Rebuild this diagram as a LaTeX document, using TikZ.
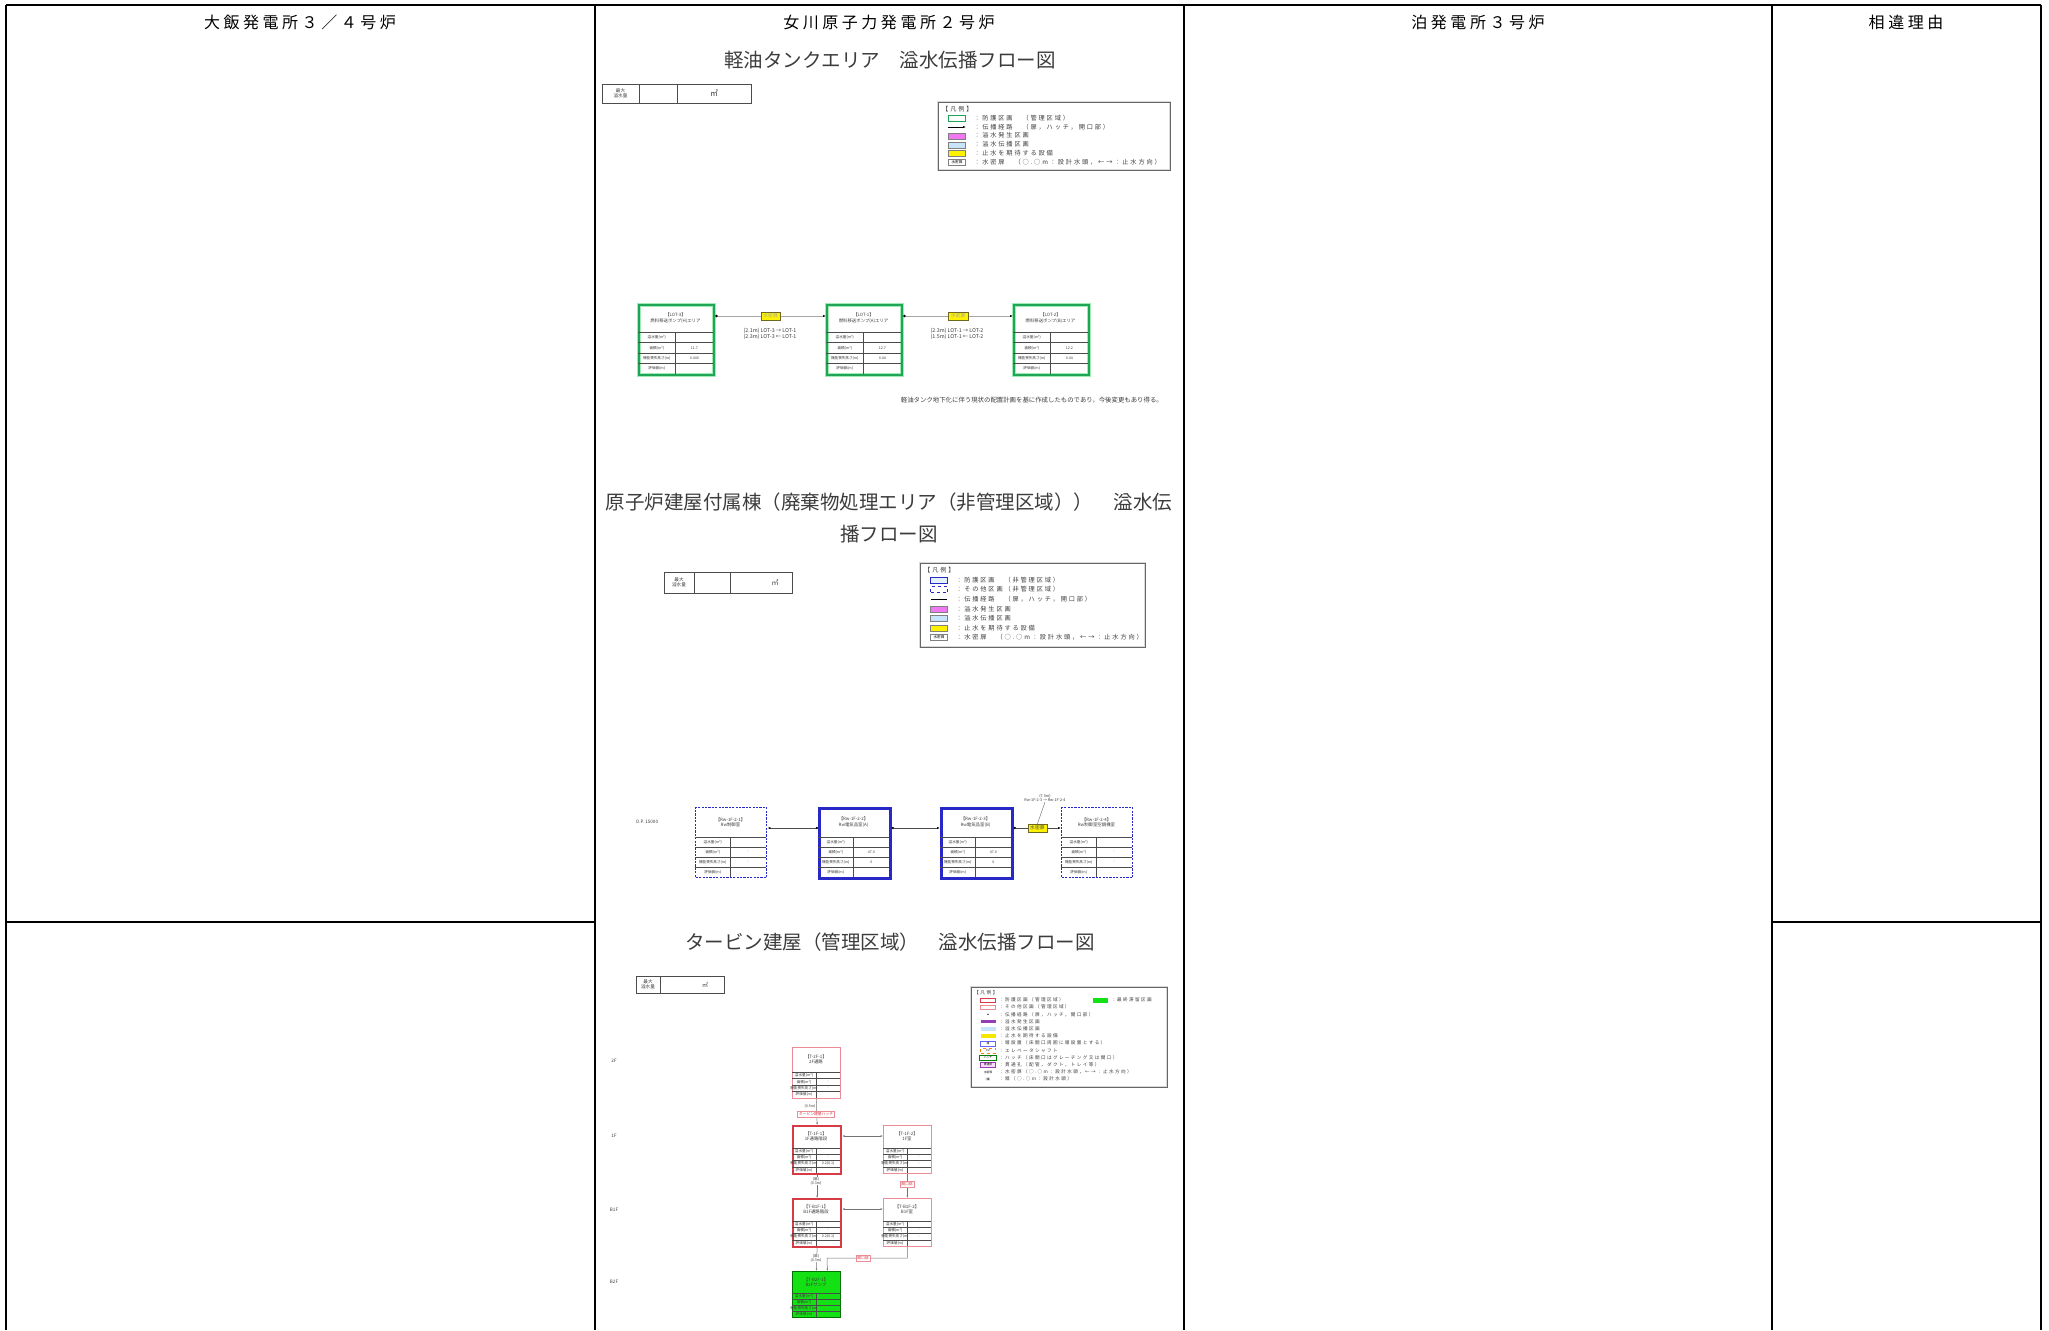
\documentclass[tikz,border=0pt]{standalone}
\usepackage{fontspec}
\setmainfont{Noto Sans CJK JP}
\newfontfamily\headfont[LetterSpace=22]{Noto Sans CJK JP}
\newfontfamily\legfont[LetterSpace=30]{Noto Sans CJK JP}
\usetikzlibrary{arrows.meta}

\definecolor{lotgreen}{RGB}{30,165,85}
\definecolor{glowgreen}{RGB}{160,235,180}
\definecolor{rwblue}{RGB}{40,40,200}
\definecolor{tred}{RGB}{215,60,70}
\definecolor{tpink}{RGB}{235,140,150}
\definecolor{finalgreen}{RGB}{20,225,20}
\definecolor{swmagenta}{RGB}{240,120,240}
\definecolor{swblue}{RGB}{200,228,250}
\definecolor{swpurple}{RGB}{150,60,180}
\definecolor{inkgray}{RGB}{60,60,60}

\tikzset{
  rule/.style={line width=1.1pt},
  heavy rule/.style={line width=2.6pt},
  double rule/.style={double, double distance=1.2pt, line width=0.8pt},
  headtext/.style={font=\headfont\fontsize{16}{16}\selectfont},
  figtitle/.style={font=\fontsize{19.5}{32}\selectfont, text=inkgray, inner sep=0pt},
  smalltxt/.style={font=\fontsize{4.6}{5.4}\selectfont, text=inkgray, inner sep=0pt, align=center},
  legtext/.style={font=\legfont\fontsize{6.2}{6.5}\selectfont, text=inkgray, inner sep=0pt, anchor=west},
  legframe/.style={draw=black!60, line width=0.8pt, preaction={draw=black!15, line width=2pt}},
  swatch/.style={minimum width=17pt, minimum height=6pt, inner sep=0pt, draw=black!50, line width=0.4pt},
  roomname/.style={font=\fontsize{4.4}{5.2}\selectfont, text=inkgray, inner sep=0pt, align=center},
  celltext/.style={font=\fontsize{3.6}{4}\selectfont, text=inkgray, inner sep=0pt},
  rowline/.style={line width=0.45pt, black!70},
  lotroom/.style={draw=lotgreen, line width=2.2pt, preaction={draw=glowgreen, line width=4.6pt}},
  rwroom/.style={draw=rwblue, dash pattern=on 2.2pt off 1.2pt, line width=1.4pt},
  rwmain/.style={draw=rwblue, line width=2.8pt},
  troom/.style={draw=tpink, line width=0.8pt},
  tmain/.style={draw=tred, line width=2.2pt},
  tfinal/.style={draw=green!45!black, fill=finalgreen, line width=0.8pt},
  doortag/.style={draw=olive!70!black, fill=yellow, font=\fontsize{4.8}{5.4}\selectfont, inner xsep=2.5pt, inner ysep=1.8pt, line width=0.4pt},
  pinktag/.style={draw=tpink, fill=white, font=\fontsize{3.8}{4.5}\selectfont, text=tred, inner xsep=1.5pt, inner ysep=1pt, line width=0.4pt},
  lotpath/.style={line width=0.8pt, black!35, {Circle[length=2.4pt,black]}-{Latex[length=3pt,black]}},
  rwpath/.style={line width=0.7pt, black!70, {Circle[length=2.2pt,black]}-{Latex[length=3pt,black]}},
  tpath/.style={line width=0.5pt, black!55, -{Latex[length=2.4pt]}},
  maxtab/.style={line width=0.6pt, black!70}
}

% room box with name area and four rows
\newcommand{\roombox}[7]{%
  \node[#2, anchor=north west, minimum width=\bw, minimum height=\bh, inner sep=0pt] (#1) at (#3,#4) {};
  \pgfmathsetmacro\rh{(\bh-\hh)/4}
  \node[roomname] (#1-name) at ({#3+\bw/2},{#4+\hh/2}) {#5};
  \foreach \k in {0,1,2,3}
    \draw[rowline] (#3,{#4+\hh+\k*\rh}) -- ++(\bw,0);
  \draw[rowline] ({#3+\bw/2},{#4+\hh}) -- ({#3+\bw/2},{#4+\bh});
  \foreach \lab/\val [count=\k from 0] in {溢水量(m³)/{}, 面積(m²)/#6, 機能喪失高さ(m)/#7, 評価値(m)/{}} {
    \node[celltext] at ({#3+\bw/4},{#4+\hh+(\k+0.5)*\rh}) {\lab};
    \node[celltext] at ({#3+3*\bw/4},{#4+\hh+(\k+0.5)*\rh}) {\val};
  }
}

\begin{document}
\begin{tikzpicture}[x=1pt, y=-1pt]
\useasboundingbox (0,0) rectangle (2049,1330);

% comparison table
\draw[heavy rule] (6,5) -- (2041,5);
\draw[double rule] (6,40) -- (2041,40);
\foreach \cx in {6,595,1184,1772,2041}
  \draw[rule] (\cx,5) -- (\cx,1330);
\draw[rule] (6,922) -- (595,922);
\draw[rule] (1772,922) -- (2041,922);

\node[headtext] (ohi) at (300,22) {大飯発電所３／４号炉};
\node[headtext] (onagawa) at (889,22) {女川原子力発電所２号炉};
\node[headtext] (tomari) at (1478,22) {泊発電所３号炉};
\node[headtext] (reason) at (1906,22) {相違理由};

% ---- light oil tank area ----
\node[figtitle] (title1) at (890,60) {軽油タンクエリア　溢水伝播フロー図};

\draw[maxtab] (602,84) rectangle (751,103);
\draw[maxtab] (639,84) -- (639,103) (677,84) -- (677,103);
\node[smalltxt] (max1) at (620.5,93.5) {最大\\溢水量};
\node[font=\fontsize{8}{8}\selectfont, text=inkgray] (unit1) at (714,93.5) {㎥};

\draw[legframe] (938,102) rectangle (1170,170);
\node[legtext] (leg1) at (942,109) {【凡例】};
\node[swatch, draw=lotgreen, line width=0.8pt] (leg1a) at (957,118) {};
\draw[-{Latex[length=3pt]}, line width=0.6pt] (948,127) -- (966,127);
\node[swatch, fill=swmagenta] (leg1c) at (957,136) {};
\node[swatch, fill=swblue] (leg1d) at (957,144.8) {};
\node[swatch, fill=yellow] (leg1e) at (957,153.6) {};
\node[swatch, font=\fontsize{3.6}{4}\selectfont] (leg1f) at (957,162.4) {水密扉};
\foreach \t [count=\i from 0] in {：防護区画　（管理区域）, ：伝播経路　（扉，ハッチ，開口部）, ：溢水発生区画, ：溢水伝播区画, ：止水を期待する設備, ：水密扉　（○.○m：設計水頭，←→：止水方向）}
  \node[legtext] at (974,{118+\i*8.8}) {\t};

\def\bw{75}\def\bh{70}\def\hh{28}
\roombox{lot3}{lotroom}{638}{304}{【LOT-3】\\燃料移送ポンプ(H)エリア}{11.7}{0.440}
\roombox{lot1}{lotroom}{826}{304}{【LOT-1】\\燃料移送ポンプ(A)エリア}{12.7}{0.44}
\roombox{lot2}{lotroom}{1013}{304}{【LOT-2】\\燃料移送ポンプ(B)エリア}{12.2}{0.44}

\draw[lotpath] ([yshift=-12pt]lot3.north east) -- ([yshift=-12pt]lot1.north west)
  node[doortag, midway] (door31) {水密扉};
\draw[lotpath] ([yshift=-12pt]lot1.north east) -- ([yshift=-12pt]lot2.north west)
  node[doortag, midway] (door12) {水密扉};
\node[smalltxt, font=\fontsize{5.3}{6.2}\selectfont] (head31) at (770,334) {(2.1m) LOT-3 → LOT-1\\(2.3m) LOT-3 ← LOT-1};
\node[smalltxt, font=\fontsize{5.3}{6.2}\selectfont] (head12) at (957,334) {(2.3m) LOT-1 → LOT-2\\(1.5m) LOT-1 ← LOT-2};

\node[font=\fontsize{6.4}{7}\selectfont, text=inkgray, inner sep=0pt, anchor=east] (note1) at (1163,400)
  {軽油タンク地下化に伴う現状の配置計画を基に作成したものであり，今後変更もあり得る。};

% ---- reactor building annex ----
\node[figtitle, text width=567pt, align=center] (title2) at (889,518)
  {\makebox[567pt]{原子炉建屋付属棟（廃棄物処理エリア（非管理区域））\hfill 溢水伝}\\播フロー図};

\draw[maxtab] (664,572) rectangle (792,593);
\draw[maxtab] (694,572) -- (694,593) (730,572) -- (730,593);
\node[smalltxt] (max2) at (679,582.5) {最大\\溢水量};
\node[font=\fontsize{7}{7}\selectfont, text=inkgray] (unit2) at (775,582.5) {㎥};

\draw[legframe] (920,563) rectangle (1145,647);
\node[legtext] (leg2) at (924,570) {【凡例】};
\node[swatch, draw=rwblue, fill=swblue!50, line width=0.5pt] (leg2a) at (939,580) {};
\node[swatch, draw=rwblue, dashed, line width=0.5pt] (leg2b) at (939,589.6) {};
\draw[line width=1.4pt] (931,599.2) -- (947,599.2);
\node[swatch, fill=swmagenta] (leg2d) at (939,608.8) {};
\node[swatch, fill=swblue] (leg2e) at (939,618.4) {};
\node[swatch, fill=yellow] (leg2f) at (939,628) {};
\node[swatch, font=\fontsize{3.6}{4}\selectfont] (leg2g) at (939,637.6) {水密扉};
\foreach \t [count=\i from 0] in {：防護区画　（非管理区域）, ：その他区画（非管理区域）, ：伝播経路　（扉，ハッチ，開口部）, ：溢水発生区画, ：溢水伝播区画, ：止水を期待する設備, ：水密扉　（○.○m：設計水頭，←→：止水方向）}
  \node[legtext] at (956,{580+\i*9.6}) {\t};

\node[smalltxt] (op1) at (647,822) {O.P. 15000};

\def\bw{71}\def\bh{70}\def\hh{30}
\roombox{rw1}{rwroom}{695}{807}{【Rw-1F-2-1】\\Rw制御室}{-}{-}
\roombox{rw2}{rwmain}{818}{807}{【Rw-1F-2-2】\\Rw電気品室(A)}{47.0}{0}
\roombox{rw3}{rwmain}{940}{807}{【Rw-1F-2-3】\\Rw電気品室(B)}{47.0}{0}
\roombox{rw4}{rwroom}{1061}{807}{【Rw-1F-2-4】\\Rw制御室空調機室}{-}{-}

\draw[rwpath] ([yshift=-21pt]rw2.north west) -- ([yshift=-21pt]rw1.north east);
\draw[rwpath] ([yshift=-21pt]rw2.north east) -- ([yshift=-21pt]rw3.north west);
\draw[rwpath] ([yshift=-21pt]rw3.north east) -- ([yshift=-21pt]rw4.north west)
  node[doortag, midway] (door34) {水密扉};
\node[smalltxt, font=\fontsize{3.8}{4.6}\selectfont] (head34) at (1045,798) {(7.0m)\\Rw-1F-2-3 → Rw-1F-2-4};
\draw[line width=0.4pt, black!60] (head34.south) -- (door34.north);

% ---- turbine building ----
\node[figtitle] (title3) at (890,942) {タービン建屋（管理区域）　溢水伝播フロー図};

\draw[maxtab] (636,976) rectangle (724,993);
\draw[maxtab] (660,976) -- (660,993);
\node[smalltxt] (max3) at (648,984.5) {最大\\溢水量};
\node[font=\fontsize{6}{6}\selectfont, text=inkgray] (unit3) at (705,984.5) {㎥};

\draw[legframe] (971,987) rectangle (1167,1087);
\node[legtext, font=\legfont\fontsize{4.8}{5}\selectfont] (leg3) at (974,993) {【凡例】};
\def\ly#1{1000+#1*7.2}
\node[swatch, minimum width=15pt, minimum height=4pt, draw=tred, line width=1pt] (leg3a) at (988,{\ly{0}}) {};
\node[swatch, minimum width=15pt, minimum height=4pt, draw=tpink] (leg3b) at (988,{\ly{1}}) {};
\fill (988,{\ly{2}}) circle (0.7pt);
\node[swatch, minimum width=15pt, minimum height=3.5pt, fill=swpurple, draw=none] (leg3d) at (988,{\ly{3}}) {};
\node[swatch, minimum width=15pt, minimum height=3.5pt, fill=swblue, draw=none] (leg3e) at (988,{\ly{4}}) {};
\node[swatch, minimum width=15pt, minimum height=3.5pt, fill=yellow!90!olive, draw=none] (leg3f) at (988,{\ly{5}}) {};
\node[swatch, minimum width=15pt, minimum height=5pt, draw=blue!60, font=\fontsize{2.8}{3}\selectfont] (leg3g) at (988,{\ly{6}}) {堰};
\node[swatch, minimum width=15pt, minimum height=5pt, draw=orange, dashed, font=\fontsize{2.8}{3}\selectfont] (leg3h) at (988,{\ly{7}}) {EV};
\node[swatch, minimum width=17pt, minimum height=5pt, draw=green!50!black, font=\fontsize{2.8}{3}\selectfont] (leg3i) at (988,{\ly{8}}) {ハッチ};
\node[swatch, minimum width=15pt, minimum height=5pt, draw=swpurple, fill=swmagenta!25, font=\fontsize{2.8}{3}\selectfont] (leg3j) at (988,{\ly{9}}) {貫通部};
\node[swatch, minimum width=15pt, minimum height=5pt, draw=none, font=\fontsize{2.8}{3}\selectfont] (leg3k) at (988,{\ly{10}}) {水密扉};
\node[swatch, minimum width=15pt, minimum height=5pt, draw=none, font=\fontsize{2.8}{3}\selectfont] (leg3l) at (988,{\ly{11}}) {(堰)};
\foreach \t [count=\i from 0] in {：防護区画（管理区域）, ：その他区画（管理区域）, ：伝播経路（扉，ハッチ，開口部）, ：溢水発生区画, ：溢水伝播区画, ：止水を期待する設備, ：堰設置（床開口周囲に堰設置とする）, ：エレベータシャフト, ：ハッチ（床開口はグレーチング又は開口）, ：貫通孔（配管，ダクト，トレイ等）, ：水密扉（○.○m：設計水頭，←→：止水方向）, ：堰（○.○m：設計水頭）}
  \node[legtext, font=\legfont\fontsize{4.6}{5}\selectfont] at (999,{\ly{\i}}) {\t};
\node[swatch, minimum width=15pt, minimum height=5pt, fill=finalgreen, draw=none] (leg3m) at (1100,{\ly{0}}) {};
\node[legtext, font=\legfont\fontsize{4.6}{5}\selectfont] at (1111,{\ly{0}}) {：最終滞留区画};

\foreach \lv/\ly in {2F/1061, 1F/1136, B1F/1210, B2F/1282}
  \node[smalltxt] at (614,\ly) {\lv};

\def\bw{48}\def\bh{51}\def\hh{25}
\roombox{t2f1}{troom}{792}{1047}{【T-2F-1】\\2F通路}{-}{-}
\def\bh{48}\def\hh{23}
\roombox{t1f1}{tmain}{792}{1125}{【T-1F-1】\\1F通路階段}{-}{0.2(0.1)}
\roombox{t1f2}{troom}{883}{1125}{【T-1F-2】\\1F室}{-}{-}
\roombox{tb1f1}{tmain}{792}{1198}{【T-B1F-1】\\B1F通路階段}{-}{0.2(0.1)}
\roombox{tb1f2}{troom}{883}{1198}{【T-B1F-2】\\B1F室}{-}{-}
\def\bh{46}\def\hh{22}
\roombox{tb2f1}{tfinal}{792}{1271}{【T-B2F-1】\\B2Fサンプ}{}{}

\draw[tpath] (t2f1.south) -- (t1f1.north);
\node[smalltxt, font=\fontsize{3.6}{4}\selectfont] (h21) at (810,1106) {(0.5m)};
\node[pinktag] (hatch21) at (816,1114) {タービン建屋ハッチ};
\draw[tpath, {Latex[length=2.4pt]}-{Latex[length=2.4pt]}] ([yshift=-11pt]t1f1.north east) -- ([yshift=-11pt]t1f2.north west);
\draw[tpath] (t1f1.south) -- (tb1f1.north);
\node[smalltxt, font=\fontsize{3.6}{4}\selectfont, fill=white] (h11) at (816,1181) {(扉)\\(0.3m)};
\draw[tpath] (t1f2.south) -- (tb1f2.north);
\node[pinktag] (open12) at (907,1184) {開口部};
\draw[tpath, {Latex[length=2.4pt]}-{Latex[length=2.4pt]}] ([yshift=-11pt]tb1f1.north east) -- ([yshift=-11pt]tb1f2.north west);
\draw[tpath] (tb1f1.south) -- (tb2f1.north);
\node[smalltxt, font=\fontsize{3.6}{4}\selectfont, fill=white] (hb1) at (816,1258) {(扉)\\(0.3m)};
\draw[tpath] (tb1f2.south) |- (827,1258) -- ([xshift=11pt]tb2f1.north);
\node[pinktag] (openb2) at (863,1258) {開口部};

\end{tikzpicture}
\end{document}
